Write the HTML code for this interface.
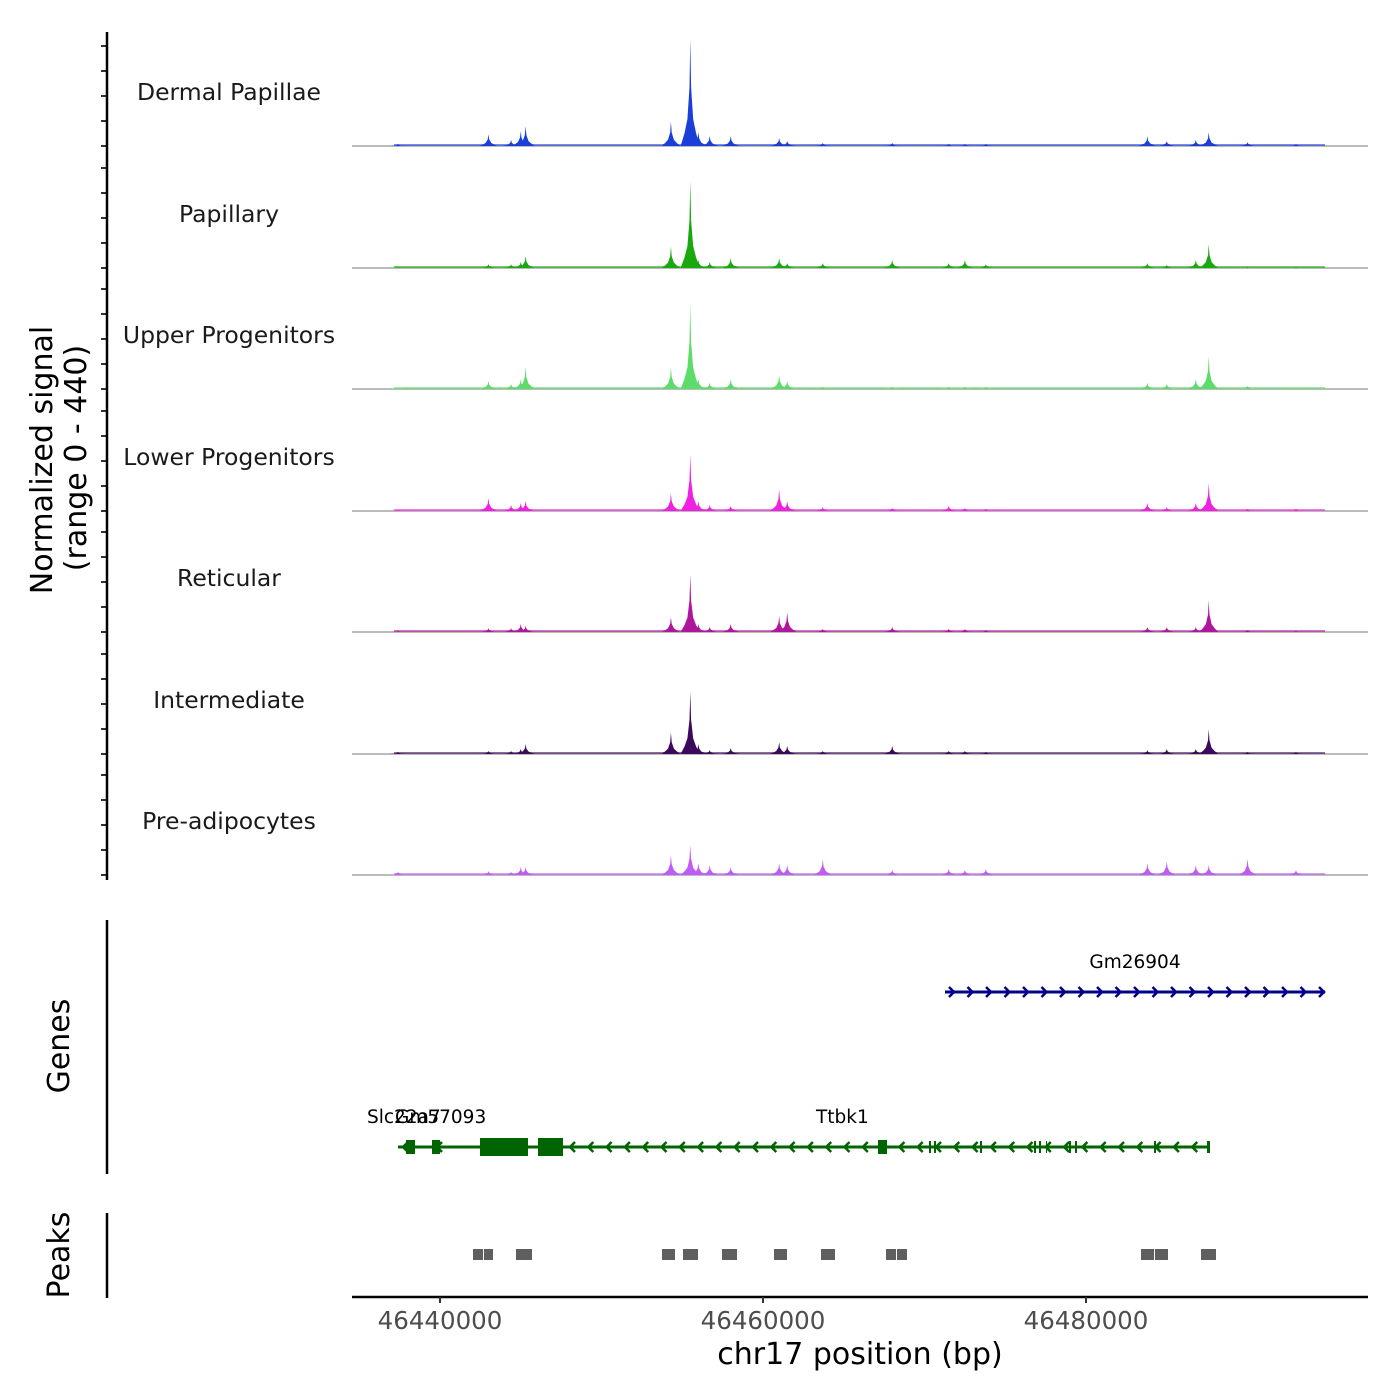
<!DOCTYPE html>
<html><head><meta charset="utf-8"><style>
html,body{margin:0;padding:0;background:#fff;}
svg{display:block;font-family:"DejaVu Sans","Liberation Sans",sans-serif;}
</style></head><body>
<svg id="chart" width="1400" height="1400" viewBox="0 0 1400 1400" xmlns="http://www.w3.org/2000/svg">
<g id="tracks"></g>
<g id="labels"></g>
<g id="yaxis"></g>
<text transform="translate(52,460) rotate(-90)" text-anchor="middle" font-size="30" fill="#000">Normalized signal</text>
<text transform="translate(86,458) rotate(-90)" text-anchor="middle" font-size="30" fill="#000">(range 0 - 440)</text>
<line x1="107" y1="920" x2="107" y2="1174" stroke="#000" stroke-width="2.5"/>
<text transform="translate(69,1046) rotate(-90)" text-anchor="middle" font-size="30">Genes</text>
<line x1="107" y1="1213" x2="107" y2="1298" stroke="#000" stroke-width="2.5"/>
<text transform="translate(69,1255) rotate(-90)" text-anchor="middle" font-size="30">Peaks</text>
<g id="genes"></g>
<g id="peaks"></g>
<g id="xaxis"></g>
<text x="860" y="1364" text-anchor="middle" font-size="30">chr17 position (bp)</text>
</svg>
<script>
const trackNames = ["Dermal Papillae","Papillary","Upper Progenitors","Lower Progenitors","Reticular","Intermediate","Pre-adipocytes"];
const trackColors = ["#1a3fd9","#1aa80f","#5edc6a","#f020e0","#b0169c","#3b0a5a","#c05cf5"];
const peakSites = [46437400,46443000,46444400,46445000,46445300,46454300,46455500,46456000,46456700,46458000,46461000,46461500,46463700,46468000,46471500,46472500,46473800,46483800,46485000,46486800,46487600,46490000,46493000];
const sigDermal = [7,43,22,54,72,90,389,50,36,36,29,18,11,11,7,7,7,36,18,22,50,14,7];
const sigPapillary = [4,14,14,22,43,79,317,29,22,36,36,18,18,29,18,29,14,18,11,29,86,4,4];
const sigUpper = [4,29,18,36,79,79,310,36,22,36,50,29,7,7,7,7,7,22,18,36,119,11,4];
const sigLower = [4,47,22,29,36,65,205,36,22,18,79,36,14,11,18,11,7,29,14,29,101,7,7];
const sigReticular = [4,14,14,29,22,54,209,29,18,29,58,72,11,18,11,11,7,18,18,18,115,7,4];
const sigIntermediate = [7,11,11,18,36,79,227,36,14,22,43,29,11,29,11,11,7,14,18,18,90,7,7];
const sigPreadipo = [11,14,11,29,29,72,108,43,36,29,43,36,58,18,22,18,22,43,50,36,36,58,18];
const allSignals = [sigDermal,sigPapillary,sigUpper,sigLower,sigReticular,sigIntermediate,sigPreadipo];
const xTicks = [46440000,46460000,46480000];
const peakStarts = [46442043,46442724,46444706,46453746,46455046,46457461,46460681,46463591,46467616,46468297,46483406,46484272,46487121];
const peakEnds =   [46442663,46443282,46445697,46454551,46455975,46458390,46461486,46464458,46468235,46468916,46484211,46485077,46488050];
const signalStart = 46437150, signalEnd = 46494800, maxSignal = 440;

const NS="http://www.w3.org/2000/svg";
function mk(tag, attrs, parent){const e=document.createElementNS(NS,tag);for(const k in attrs)e.setAttribute(k,attrs[k]);parent.appendChild(e);return e;}
const X0=352, X1=1368;
function xs(bp){return 440+(bp-46440000)*(323/20000);}
const baselines=[146,268,389,511,632,754,875];
const trackH=121;
function ys(v,i){return baselines[i]-v/maxSignal*trackH;}

const gT=document.getElementById('tracks');
const gL=document.getElementById('labels');
const gY=document.getElementById('yaxis');
trackNames.forEach((name,i)=>{
  const base=baselines[i];
  const g=mk('g',{},gT);
  
  
  const bl=mk('line',{x1:X0,x2:X1,y1:base,y2:base,stroke:'#777','stroke-width':1},g);
  
  
  const noise=mk('rect',{x:xs(signalStart),y:base-2,width:xs(signalEnd)-xs(signalStart),height:2,fill:trackColors[i],opacity:0.6},g);
  
  
  allSignals[i].forEach((v,j)=>{
    const p=peakSites[j], w=600;
    const pts=[[p-w,0],[p-w*0.6,v*0.12],[p-w*0.3,v*0.25],[p-w*0.08,v*0.55],[p,v],[p+w*0.08,v*0.55],[p+w*0.3,v*0.25],[p+w*0.6,v*0.12],[p+w,0]];
    const poly=mk('polygon',{points:pts.map(q=>xs(q[0]).toFixed(1)+','+ys(q[1],i).toFixed(1)).join(' '),fill:trackColors[i]},g);
    
    
  });
  const t=mk('text',{x:229,y:base-46,'text-anchor':'middle','font-size':23.5,fill:'#1a1a1a'},gL);
  t.textContent=name;
  
  
  for(let k=0;k<5;k++){
    const tk=mk('line',{x1:101,x2:107,y1:base-k*25,y2:base-k*25,stroke:'#333','stroke-width':2},gY);
    
    
  }
});
const ya=mk('line',{x1:107,x2:107,y1:32,y2:880,stroke:'#000','stroke-width':2.5},gY);



const gG=document.getElementById('genes');
function chevrons(x1,x2,y,dir,color,step){
  for(let x=x1+8;x<x2-4;x+=step){
    const d=dir>0?`M${x-4},${y-5} L${x+1},${y} L${x-4},${y+5}`:`M${x+4},${y-5} L${x-1},${y} L${x+4},${y+5}`;
    const c=mk('path',{d:d,stroke:color,'stroke-width':2.5,fill:'none'},gG);
    
    
  }
}
const gm=mk('line',{x1:945,x2:1325,y1:992,y2:992,stroke:'#00008b','stroke-width':3},gG);


chevrons(945,1328,992,1,'#00008b',18.5);
let l=mk('text',{x:1135,y:968,'text-anchor':'middle','font-size':18.5},gG);l.textContent='Gm26904';


const tt=mk('line',{x1:398,x2:1210,y1:1147,y2:1147,stroke:'#006400','stroke-width':3},gG);


chevrons(563,1210,1147,-1,'#006400',18.3);
chevrons(396,420,1147,-1,'#006400',18);
chevrons(430,450,1147,-1,'#006400',18);
[[480,528,18],[538,563,18],[406,415,14],[432,440,14],[878,887,14],[929,931,12],[934,936,12],[980,982,12],[1034,1036,12],[1039,1041,12],[1046,1047,12],[1069,1071,12],[1075,1077,12],[1154,1156,12],[1207,1210,12]].forEach(e=>{
  const r=mk('rect',{x:e[0],y:1147-e[2]/2,width:e[1]-e[0],height:e[2],fill:'#006400'},gG);
  
  
});
[['Slc22a7',367],['Gm57093',395],['Ttbk1',816]].forEach(a=>{
  const t=mk('text',{x:a[1],y:1123,'font-size':18.5},gG);t.textContent=a[0];
  
  
});

const gP=document.getElementById('peaks');
peakStarts.forEach((s,i)=>{
  const r=mk('rect',{x:xs(s),y:1249,width:xs(peakEnds[i])-xs(s),height:11,fill:'#5f5f5f'},gP);
  
  
});

const gX=document.getElementById('xaxis');
const xl=mk('line',{x1:X0,x2:X1,y1:1297,y2:1297,stroke:'#000','stroke-width':2.5},gX);


xTicks.forEach(v=>{
  const x=xs(v);
  const tk=mk('line',{x1:x,x2:x,y1:1297,y2:1303,stroke:'#333','stroke-width':2},gX);
  
  
  const t=mk('text',{x:x,y:1329,'text-anchor':'middle','font-size':24.5,fill:'#4d4d4d'},gX);
  t.textContent=v;
  
  
});
</script>
</body></html>
